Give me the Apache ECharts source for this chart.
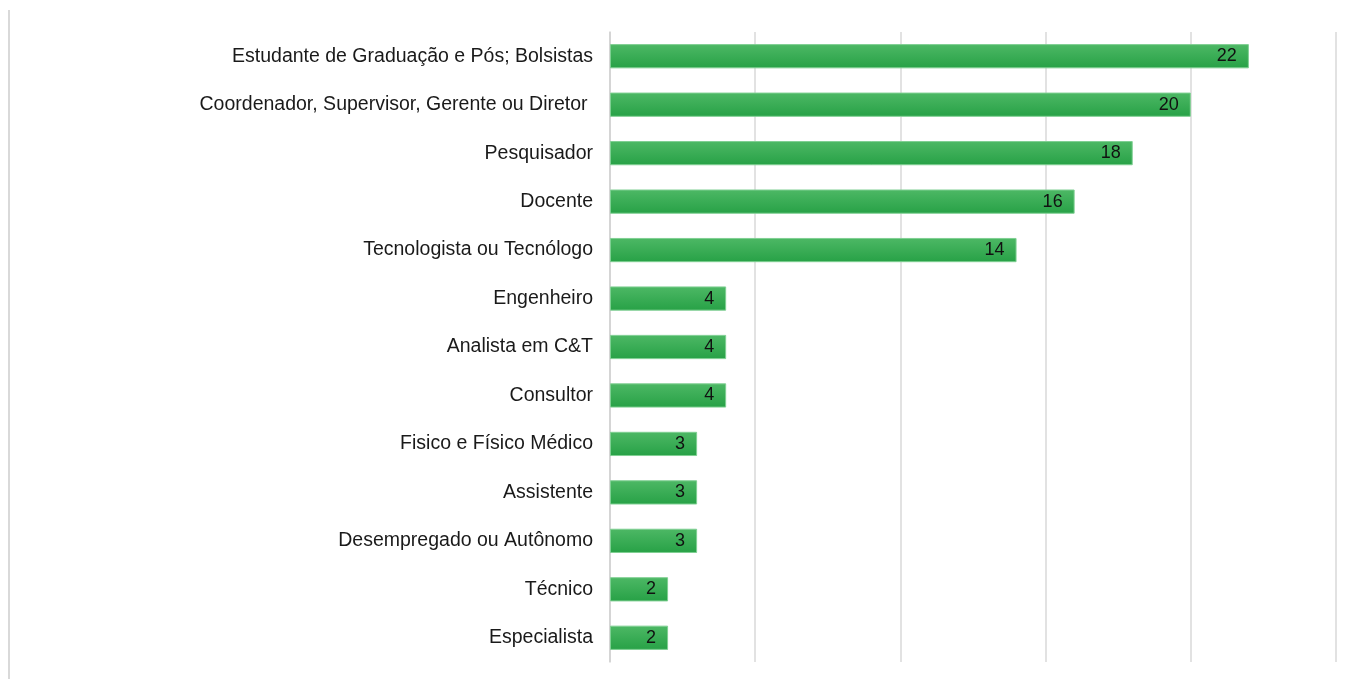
<!DOCTYPE html>
<html><head><meta charset="utf-8">
<script src="https://cdn.jsdelivr.net/npm/echarts@6/dist/echarts.min.js"></script>
<style>html,body{margin:0;padding:0;background:#fff}#c{width:1351px;height:679px}</style>
</head><body><div id="c"></div>
<script>
const categories = ["Estudante de Graduação e Pós; Bolsistas","Coordenador, Supervisor, Gerente ou Diretor ","Pesquisador","Docente","Tecnologista ou Tecnólogo","Engenheiro","Analista em C&T","Consultor","Fisico e Físico Médico","Assistente","Desempregado ou Autônomo","Técnico","Especialista"];
const values = [22,20,18,16,14,4,4,4,3,3,3,2,2];
const chart = echarts.init(document.getElementById('c'), null, {renderer:'canvas'});
chart.setOption({
  animation:false,
  backgroundColor:'#fff',
  grid:{left:610,right:15,top:32,bottom:17,containLabel:false},
  graphic:[{type:'line',shape:{x1:9,y1:10,x2:9,y2:679},style:{stroke:'#d9d9d9',lineWidth:2}}],
  xAxis:{type:'value',min:0,max:25,interval:5,axisLabel:{show:false},axisLine:{show:false},axisTick:{show:false},
    splitLine:{lineStyle:{color:'#d9d9d9',width:1.5}}},
  yAxis:{type:'category',inverse:true,data:categories,axisTick:{show:false},
    axisLine:{lineStyle:{color:'#d0d0d0',width:1.5}},
    axisLabel:{color:'#1a1a1a',fontSize:19.5,fontFamily:'Liberation Sans, Arial',margin:17,padding:[4,0,0,0]}},
  series:[{type:'bar',data:values,barCategoryGap:'50%',
    itemStyle:{color:new echarts.graphic.LinearGradient(0,0,0,1,[{offset:0,color:'#4db865'},{offset:1,color:'#27a146'}]),borderColor:'#7fcf92',borderWidth:1},
    label:{show:true,position:'insideRight',distance:12,color:'#111',fontSize:18,fontFamily:'Liberation Sans, Arial',padding:[2,0,0,0]}}]
});
</script></body></html>
